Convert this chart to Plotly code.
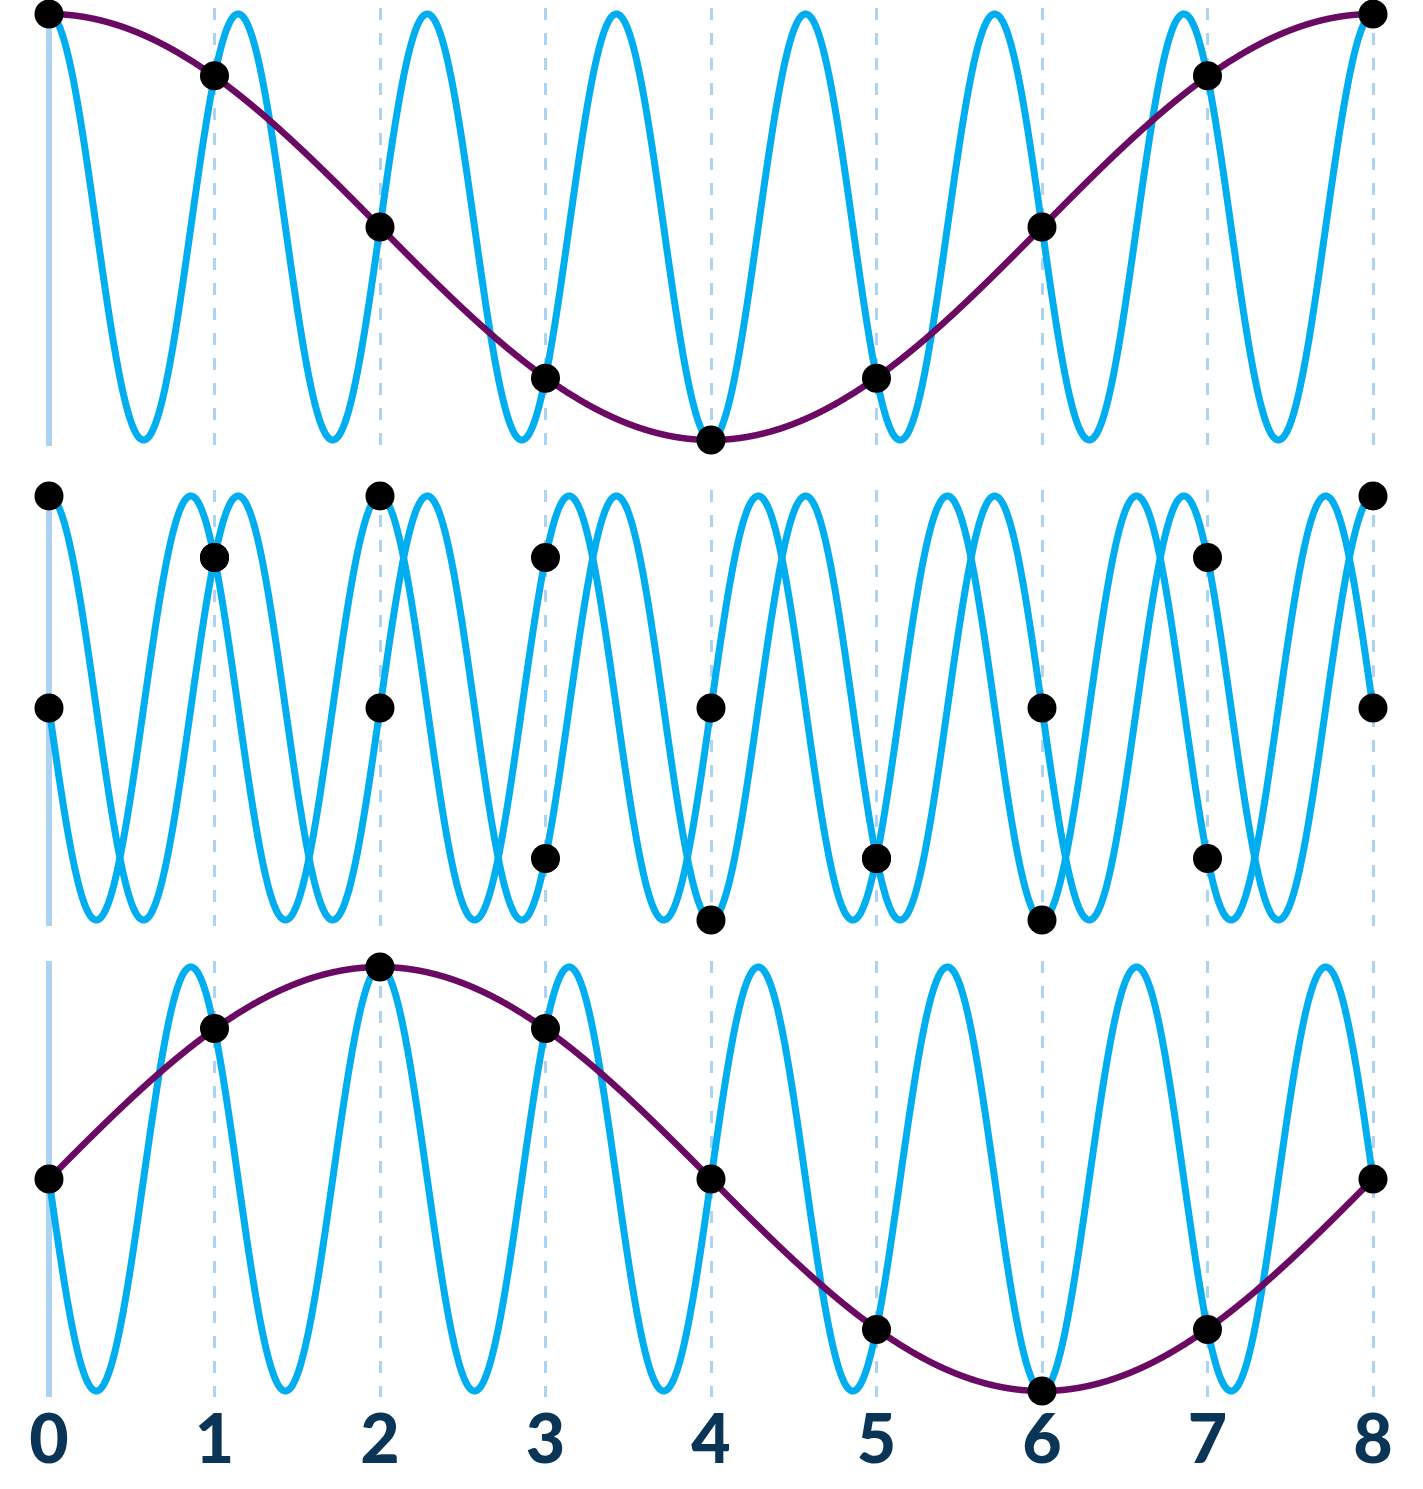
import numpy as np
import plotly.graph_objects as go

# ---- data ----
sample_times = [0, 1, 2, 3, 4, 5, 6, 7, 8]
tick_labels = ["0", "1", "2", "3", "4", "5", "6", "7", "8"]
high_freq = 7 / 8      # cycles per sample (blue signal)
alias_freq = 1 / 8     # cycles per sample (purple alias)
# sample values
cos_samples = [1, 0.71, 0, -0.71, -1, -0.71, 0, 0.71, 1]
sin_samples = [0, 0.71, 1, 0.71, 0, -0.71, -1, -0.71, 0]

t = np.linspace(0, 8, 3201)
blue_cos = np.cos(2 * np.pi * high_freq * t)
blue_sin = -np.sin(2 * np.pi * high_freq * t)
purple_cos = np.cos(2 * np.pi * alias_freq * t)
purple_sin = np.sin(2 * np.pi * alias_freq * t)

BLUE = "#00aeef"
PURPLE = "#6a0a63"
GRID = "#acd3f1"
NAVY = "#0b3556"

W, H = 1423, 1489
panels_px = [(14, 440), (496, 920), (967, 1391)]
pad = 0.03


def dom(top, bot):
    ext = pad * (bot - top) / 2
    return [1 - (bot + ext) / H, 1 - (top - ext) / H]


x0px, x8px = 49, 1373
ppu = (x8px - x0px) / 8
xr = [-x0px / ppu, (W - x0px) / ppu]

fig = go.Figure()

def add_line(x, y, color, width, ax):
    fig.add_trace(go.Scatter(x=x, y=y, mode="lines",
                             line=dict(color=color, width=width, simplify=False),
                             xaxis=ax[0], yaxis=ax[1], hoverinfo="skip", showlegend=False))

def add_dots(x, y, ax):
    fig.add_trace(go.Scatter(x=x, y=y, mode="markers", marker=dict(color="black", size=29),
                             cliponaxis=False, xaxis=ax[0], yaxis=ax[1], showlegend=False))

# panel 1
add_line(t, blue_cos, BLUE, 7, ("x", "y"))
add_line(t, purple_cos, PURPLE, 6.5, ("x", "y"))
add_dots(sample_times, cos_samples, ("x", "y"))
# panel 2
add_line(t, blue_cos, BLUE, 7, ("x2", "y2"))
add_line(t, blue_sin, BLUE, 7, ("x2", "y2"))
add_dots(sample_times, cos_samples, ("x2", "y2"))
add_dots(sample_times, sin_samples, ("x2", "y2"))
# panel 3
add_line(t, blue_sin, BLUE, 7, ("x3", "y3"))
add_line(t, purple_sin, PURPLE, 6.5, ("x3", "y3"))
add_dots(sample_times, sin_samples, ("x3", "y3"))

xbase = dict(range=xr, domain=[0, 1], tickvals=sample_times, ticktext=tick_labels,
             showgrid=True, gridcolor=GRID, gridwidth=3, griddash="12px,13px",
             zeroline=True, zerolinecolor=GRID, zerolinewidth=6,
             showline=False, ticks="", automargin=False, fixedrange=True)
ybase = dict(range=[-1 - pad, 1 + pad], showgrid=False, zeroline=False,
             showticklabels=False, ticks="", showline=False, automargin=False)

fig.update_layout(
    width=W, height=H,
    margin=dict(l=0, r=0, t=0, b=0),
    paper_bgcolor="white", plot_bgcolor="white",
    showlegend=False,
    xaxis=dict(xbase, anchor="y", showticklabels=False),
    xaxis2=dict(xbase, anchor="y2", showticklabels=False),
    xaxis3=dict(xbase, anchor="y3", showticklabels=True, ticklabelstandoff=-3,
                tickfont=dict(family="Lato", size=68, color=NAVY, weight=900)),
    yaxis=dict(ybase, domain=dom(*panels_px[0]), anchor="x"),
    yaxis2=dict(ybase, domain=dom(*panels_px[1]), anchor="x2"),
    yaxis3=dict(ybase, domain=dom(*panels_px[2]), anchor="x3"),
)

fig.write_html("out.html", config={"displayModeBar": False},
               post_script="document.body.style.margin='0';document.body.style.overflow='hidden';")
